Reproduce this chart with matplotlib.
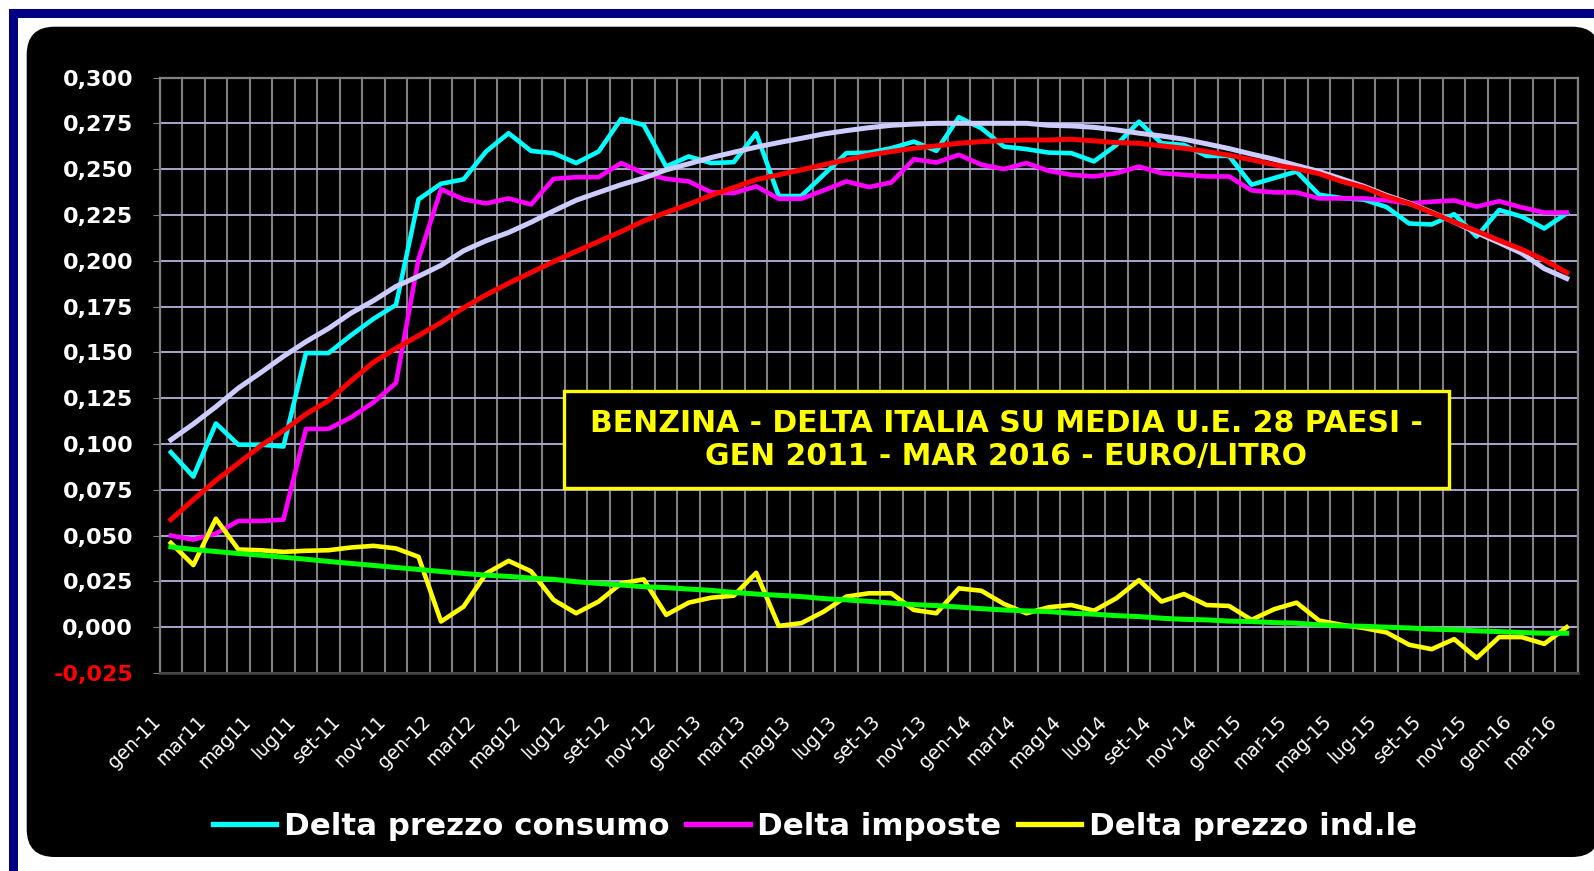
import numpy as np
import matplotlib
matplotlib.use('Agg')
import matplotlib.pyplot as plt
from matplotlib.patches import Rectangle, FancyBboxPatch
from matplotlib.lines import Line2D
from matplotlib.transforms import IdentityTransform, ScaledTranslation

plt.rcParams['font.family'] = ['DejaVu Sans']

# ---------- data (euro/litro, gen-11 .. mar-16) ----------

delta_consumo = [0.0955, 0.0822, 0.1112, 0.0996, 0.0996, 0.0986, 0.1496, 0.1496, 0.1593, 0.1683,
                 0.1759, 0.2335, 0.2420, 0.2444, 0.2596, 0.2696, 0.2599, 0.2587, 0.2533, 0.2596,
                 0.2774, 0.2741, 0.2514, 0.2569, 0.2533, 0.2538, 0.2696, 0.2353, 0.2353, 0.2470,
                 0.2587, 0.2590, 0.2614, 0.2650, 0.2600, 0.2783, 0.2723, 0.2623, 0.2609, 0.2590,
                 0.2587, 0.2542, 0.2632, 0.2759, 0.2641, 0.2632, 0.2572, 0.2572, 0.2415, 0.2451,
                 0.2487, 0.2360, 0.2342, 0.2333, 0.2293, 0.2203, 0.2198, 0.2254, 0.2132, 0.2277,
                 0.2241, 0.2176, 0.2259]

delta_imposte = [0.0500, 0.0478, 0.0511, 0.0580, 0.0580, 0.0587, 0.1082, 0.1082, 0.1145, 0.1227,
                 0.1333, 0.2009, 0.2390, 0.2335, 0.2313, 0.2340, 0.2307, 0.2447, 0.2456, 0.2456,
                 0.2533, 0.2478, 0.2447, 0.2433, 0.2373, 0.2369, 0.2406, 0.2338, 0.2338, 0.2384,
                 0.2433, 0.2402, 0.2427, 0.2554, 0.2536, 0.2578, 0.2524, 0.2500, 0.2533, 0.2490,
                 0.2469, 0.2460, 0.2478, 0.2514, 0.2478, 0.2469, 0.2460, 0.2460, 0.2384, 0.2373,
                 0.2373, 0.2340, 0.2340, 0.2340, 0.2329, 0.2313, 0.2322, 0.2329, 0.2295, 0.2325,
                 0.2291, 0.2263, 0.2263]

delta_industriale = [0.0460, 0.0339, 0.0592, 0.0424, 0.0420, 0.0411, 0.0417, 0.0420, 0.0435, 0.0444,
                     0.0430, 0.0384, 0.0031, 0.0112, 0.0293, 0.0362, 0.0305, 0.0149, 0.0076, 0.0140,
                     0.0239, 0.0261, 0.0067, 0.0134, 0.0161, 0.0172, 0.0297, 0.0007, 0.0022, 0.0085,
                     0.0167, 0.0185, 0.0185, 0.0094, 0.0076, 0.0212, 0.0199, 0.0127, 0.0076, 0.0109,
                     0.0121, 0.0090, 0.0158, 0.0257, 0.0140, 0.0181, 0.0121, 0.0116, 0.0040, 0.0098,
                     0.0134, 0.0036, 0.0013, -0.0005, -0.0029, -0.0096, -0.0120, -0.0065, -0.0168, -0.0054,
                     -0.0054, -0.0091, 0.0000]

# trend lines as drawn in the chart
trend_consumo = [0.1022, 0.1109, 0.1203, 0.1305, 0.1390, 0.1478, 0.1558, 0.1630, 0.1714, 0.1782,
                 0.1860, 0.1915, 0.1975, 0.2054, 0.2109, 0.2154, 0.2210, 0.2272, 0.2330, 0.2373,
                 0.2415, 0.2451, 0.2496, 0.2529, 0.2563, 0.2592, 0.2620, 0.2645, 0.2668, 0.2692,
                 0.2710, 0.2726, 0.2739, 0.2746, 0.2750, 0.2750, 0.2750, 0.2750, 0.2750, 0.2739,
                 0.2736, 0.2728, 0.2714, 0.2696, 0.2681, 0.2663, 0.2638, 0.2612, 0.2582, 0.2554,
                 0.2520, 0.2487, 0.2447, 0.2406, 0.2357, 0.2315, 0.2265, 0.2211, 0.2153, 0.2098,
                 0.2041, 0.1957, 0.1903]

trend_imposte = [0.0587, 0.0696, 0.0801, 0.0895, 0.0991, 0.1072, 0.1163, 0.1236, 0.1344, 0.1446,
                 0.1522, 0.1591, 0.1663, 0.1743, 0.1814, 0.1877, 0.1936, 0.1995, 0.2051, 0.2105,
                 0.2159, 0.2217, 0.2263, 0.2308, 0.2357, 0.2399, 0.2443, 0.2469, 0.2496, 0.2524,
                 0.2551, 0.2576, 0.2596, 0.2614, 0.2627, 0.2641, 0.2650, 0.2656, 0.2659, 0.2659,
                 0.2663, 0.2654, 0.2645, 0.2641, 0.2627, 0.2614, 0.2596, 0.2576, 0.2551, 0.2524,
                 0.2502, 0.2475, 0.2433, 0.2400, 0.2351, 0.2312, 0.2262, 0.2211, 0.2162, 0.2111,
                 0.2062, 0.2004, 0.1935]

trend_industriale = [0.0438, 0.0424, 0.0413, 0.0402, 0.0393, 0.0382, 0.0371, 0.0359, 0.0348, 0.0337,
                     0.0326, 0.0315, 0.0304, 0.0293, 0.0284, 0.0277, 0.0268, 0.0261, 0.0248, 0.0239,
                     0.0230, 0.0221, 0.0216, 0.0208, 0.0201, 0.0190, 0.0181, 0.0174, 0.0167, 0.0156,
                     0.0149, 0.0141, 0.0132, 0.0123, 0.0118, 0.0110, 0.0101, 0.0094, 0.0089, 0.0085,
                     0.0076, 0.0071, 0.0063, 0.0058, 0.0049, 0.0043, 0.0040, 0.0033, 0.0031, 0.0025,
                     0.0022, 0.0013, 0.0007, 0.0005, 0.0000, -0.0004, -0.0011, -0.0014, -0.0020, -0.0024,
                     -0.0029, -0.0033, -0.0033]

# one label every two months
month_labels = ['gen-11', 'mar11', 'mag11', 'lug11', 'set-11', 'nov-11',
                'gen-12', 'mar12', 'mag12', 'lug12', 'set-12', 'nov-12',
                'gen-13', 'mar13', 'mag13', 'lug13', 'set-13', 'nov-13',
                'gen-14', 'mar14', 'mag14', 'lug14', 'set-14', 'nov-14',
                'gen-15', 'mar-15', 'mag-15', 'lug-15', 'set-15', 'nov-15',
                'gen-16', 'mar-16']

series_names = ['Delta prezzo consumo', 'Delta imposte', 'Delta prezzo ind.le']
series_colors = ['#00FFFF', '#FF00FF', '#FFFF00']
trend_colors = ['#CCCCFF', '#FF0000', '#00FF00']

title = 'BENZINA - DELTA ITALIA SU MEDIA U.E. 28 PAESI -\nGEN 2011 - MAR 2016 - EURO/LITRO'

# ---------- figure ----------

W, H = 1594, 871


def fx(px):
    return px / W


def fy(py):
    return 1 - py / H


fig = plt.figure(figsize=(W / 100, H / 100), dpi=100, facecolor='white')

# dark blue frame + black rounded panel
fig.add_artist(Rectangle((fx(13.3), fy(872)), fx(1640) - fx(13.3), fy(13.3) - fy(872),
                         transform=fig.transFigure, fill=False, edgecolor='#000080',
                         linewidth=6.5, zorder=-3))
fig.add_artist(FancyBboxPatch((26.7, H - 857), 1600 - 26.7, 857 - 26.7,
                              boxstyle='round,pad=0,rounding_size=28',
                              transform=IdentityTransform(), facecolor='black',
                              edgecolor='none', zorder=-2))

ax = fig.add_axes([fx(159.6), fy(673), fx(1578) - fx(159.6), fy(77.5) - fy(673)])
ax.set_facecolor('black')

x = np.arange(len(delta_consumo))
data = [delta_consumo, delta_imposte, delta_industriale]
trends = [trend_consumo, trend_imposte, trend_industriale]

for vals, col in zip(data, series_colors):
    ax.plot(x, vals, color=col, lw=3.3, solid_joinstyle='round', zorder=3)
for i, (vals, col) in enumerate(zip(trends, trend_colors)):
    ax.plot(x, vals, color=col, lw=3.6, solid_joinstyle='round', zorder=4 + i)

ax.set_xlim(-0.5, len(x) - 0.5)
ax.set_ylim(-0.025, 0.300)

yt = np.arange(-0.025, 0.3001, 0.025)
ax.set_yticks(yt)
ax.set_yticklabels([f'{v:.3f}'.replace('.', ',') for v in yt],
                   fontsize=16, fontweight='bold', color='white')
ax.get_yticklabels()[0].set_color('#FF0000')
ax.tick_params(axis='y', length=5, color='#808080', pad=14)

ax.set_xticks(x[::2])
ax.set_xticklabels(month_labels, rotation=45, ha='right', va='center',
                   rotation_mode='anchor', fontsize=13.5, color='white')
ax.tick_params(axis='x', which='major', length=0, pad=25)
shift = ScaledTranslation(-0.13, -0.11, fig.dpi_scale_trans)
for lbl in ax.get_xticklabels():
    lbl.set_transform(lbl.get_transform() + shift)
ax.set_xticks(np.arange(-0.5, len(x), 1), minor=True)
ax.tick_params(axis='x', which='minor', length=0)

ax.set_axisbelow(True)
ax.grid(which='minor', axis='x', color='#808080', lw=1.5)
ax.grid(which='major', axis='y', color='#A8A8D0', lw=1.4)
ax.grid(which='major', axis='x', visible=False)

for side in ['top', 'right', 'left']:
    ax.spines[side].set_color('#808080')
    ax.spines[side].set_linewidth(1.6)
ax.spines['bottom'].set_color('#404040')
ax.spines['bottom'].set_linewidth(2)

# title box
fig.add_artist(Rectangle((fx(563.6), fy(488)), fx(1449) - fx(563.6), fy(390.7) - fy(488),
                         transform=fig.transFigure, facecolor='black',
                         edgecolor='#FFFF00', linewidth=2.4, zorder=5))
fig.text(fx(1006), fy(440), title, ha='center', va='center', color='#FFFF00',
         fontsize=21.5, fontweight='bold', linespacing=1.15, zorder=6)

# legend (data series only)
handles = [Line2D([], [], color=c, lw=3.8) for c in series_colors]
fig.legend(handles, series_names, loc='center', bbox_to_anchor=(fx(815), fy(826)),
           ncol=3, frameon=False, prop={'weight': 'bold', 'size': 22.2},
           labelcolor='white', handlelength=2.05, handletextpad=0.24, columnspacing=0.55)

fig.savefig('out.png', dpi=100, facecolor='white')
